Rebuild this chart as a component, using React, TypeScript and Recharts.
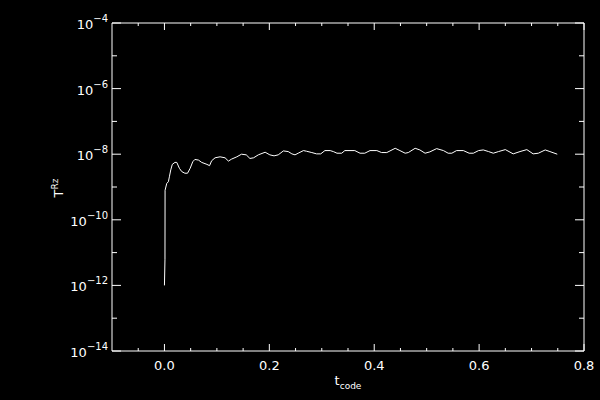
import React from 'react';
import { LineChart, Line, XAxis, YAxis, Label } from 'recharts';

// t_code values
const tCode = [
  0.0, 0.001, 0.0012, 0.0044, 0.0075, 0.0094, 0.012, 0.015, 0.02, 0.0235,
  0.0285, 0.033, 0.039, 0.044, 0.049, 0.054, 0.058, 0.065, 0.071, 0.081,
  0.086, 0.09, 0.0965, 0.106, 0.1156, 0.122, 0.128, 0.138, 0.147, 0.156,
  0.163, 0.17, 0.179, 0.192, 0.201, 0.209, 0.217, 0.2268, 0.236, 0.243,
  0.249, 0.255, 0.265, 0.271, 0.281, 0.29, 0.298, 0.306, 0.316, 0.322,
  0.329, 0.338, 0.344, 0.363, 0.373, 0.382, 0.392, 0.405, 0.414, 0.424,
  0.44, 0.449, 0.459, 0.465, 0.478, 0.487, 0.497, 0.506, 0.519, 0.532,
  0.541, 0.548, 0.557, 0.57, 0.581, 0.589, 0.599, 0.608, 0.618, 0.627,
  0.637, 0.65, 0.665, 0.678, 0.691, 0.703, 0.713, 0.726, 0.735, 0.749,
];

// log10 of T^Rz at each t_code
const logTRz = [
  -12.0, -11.2, -9.1, -8.89, -8.84, -8.69, -8.48, -8.31, -8.25, -8.25,
  -8.43, -8.53, -8.58, -8.58, -8.43, -8.23, -8.16, -8.18, -8.25, -8.31,
  -8.35, -8.2, -8.11, -8.08, -8.11, -8.21, -8.15, -8.08, -8.0, -8.02,
  -8.13, -8.11, -8.02, -7.94, -8.02, -8.05, -8.02, -7.9, -7.92, -7.99,
  -8.02, -7.97, -7.89, -7.91, -7.95, -7.99, -7.99, -7.89, -7.89, -7.92,
  -7.97, -7.97, -7.89, -7.89, -7.97, -7.97, -7.89, -7.89, -7.95, -7.95,
  -7.82, -7.89, -7.97, -7.95, -7.82, -7.87, -7.97, -7.93, -7.83, -7.89,
  -7.97, -7.97, -7.89, -7.89, -7.97, -7.97, -7.89, -7.87, -7.92, -7.97,
  -7.92, -7.86, -7.99, -7.92, -7.86, -7.99, -7.97, -7.87, -7.92, -8.0,
];

const xTicks = [
  -0.05, 0.0, 0.05, 0.1, 0.15, 0.2, 0.25, 0.3, 0.35, 0.4,
  0.45, 0.5, 0.55, 0.6, 0.65, 0.7, 0.75, 0.8,
];
const xMajorTicks = [0.0, 0.2, 0.4, 0.6, 0.8];
const xTickLabels = ['0.0', '0.2', '0.4', '0.6', '0.8'];

const yTicks = [1e-14, 1e-13, 1e-12, 1e-11, 1e-10, 1e-9, 1e-8, 1e-7, 1e-6, 1e-5, 1e-4];
const yMajorTicks = [1e-14, 1e-12, 1e-10, 1e-8, 1e-6, 1e-4];
const yTickExponents = ['\u221214', '\u221212', '\u221210', '\u22128', '\u22126', '\u22124'];

const data = tCode.map((t, i) => ({ t, rz: Math.pow(10, logTRz[i]) }));

const FG = '#ffffff';
const FONT = '"DejaVu Sans", sans-serif';
const PLOT_TOP = 23;

const majorX = (v: number) => xMajorTicks.findIndex((m) => Math.abs(m - v) < 1e-9);
const majorY = (v: number) => yMajorTicks.findIndex((m) => Math.abs(Math.log10(m) - Math.log10(v)) < 1e-6);

// bottom tick + label, plus the mirrored tick on the top frame edge
const BottomTick = ({ x, y, payload }: any) => {
  const k = majorX(payload.value);
  const len = k >= 0 ? 7 : 3;
  return (
    <g>
      <line x1={x} x2={x} y1={y} y2={y - len} stroke={FG} />
      <line x1={x} x2={x} y1={PLOT_TOP} y2={PLOT_TOP + len} stroke={FG} />
      {k >= 0 && (
        <text x={x} y={y + 19} fill={FG} fontSize={13} fontFamily={FONT} textAnchor="middle">
          {xTickLabels[k]}
        </text>
      )}
    </g>
  );
};

const LeftTick = ({ x, y, payload }: any) => {
  const k = majorY(payload.value);
  return (
    <g>
      <line x1={x} x2={x + (k >= 0 ? 9 : 5)} y1={y} y2={y} stroke={FG} />
      {k >= 0 && (
        <text x={x - 4} y={y + 6} fill={FG} fontSize={13} fontFamily={FONT} textAnchor="end">
          10
          <tspan dy={-7} fontSize={10}>{yTickExponents[k]}</tspan>
        </text>
      )}
    </g>
  );
};

const RightTick = ({ x, y, payload }: any) => {
  const k = majorY(payload.value);
  return <line x1={x} x2={x - (k >= 0 ? 9 : 5)} y1={y} y2={y} stroke={FG} />;
};

export default function App() {
  return (
    <div style={{ position: 'absolute', left: 0, top: 0, width: 600, height: 400, background: '#000' }}>
      <LineChart width={600} height={400} data={data} margin={{ top: 0, right: 0, bottom: 0, left: 0 }}>
        <XAxis
          dataKey="t"
          type="number"
          domain={[-0.1, 0.8]}
          ticks={xTicks}
          interval={0}
          height={49}
          tickSize={0}
          tickMargin={0}
          tickLine={false}
          axisLine={{ stroke: FG }}
          tick={<BottomTick />}
          allowDataOverflow
        >
          <Label
            content={() => (
              <text x={348} y={385} fill={FG} fontSize={13} fontFamily={FONT} textAnchor="middle">
                t<tspan dy={4} fontSize={9}>code</tspan>
              </text>
            )}
          />
        </XAxis>
        <XAxis
          xAxisId="top"
          orientation="top"
          type="number"
          domain={[-0.1, 0.8]}
          height={23}
          tickLine={false}
          tick={false}
          axisLine={{ stroke: FG }}
          allowDataOverflow
        />
        <YAxis
          scale="log"
          type="number"
          domain={[1e-14, 1e-4]}
          ticks={yTicks}
          interval={0}
          width={112}
          tickSize={0}
          tickMargin={0}
          tickLine={false}
          axisLine={{ stroke: FG }}
          tick={<LeftTick />}
          allowDataOverflow
        >
          <Label
            content={() => (
              <text
                transform="translate(63, 188) rotate(-90)"
                x={0}
                y={0}
                fill={FG}
                fontSize={13}
                fontFamily={FONT}
                textAnchor="middle"
              >
                T<tspan dy={-5} fontSize={9}>Rz</tspan>
              </text>
            )}
          />
        </YAxis>
        <YAxis
          yAxisId="right"
          orientation="right"
          scale="log"
          type="number"
          domain={[1e-14, 1e-4]}
          ticks={yTicks}
          interval={0}
          width={16}
          tickSize={0}
          tickMargin={0}
          tickLine={false}
          axisLine={{ stroke: FG }}
          tick={<RightTick />}
          allowDataOverflow
        />
        <Line
          dataKey="rz"
          type="linear"
          stroke={FG}
          strokeWidth={1}
          dot={false}
          isAnimationActive={false}
        />
      </LineChart>
    </div>
  );
}
